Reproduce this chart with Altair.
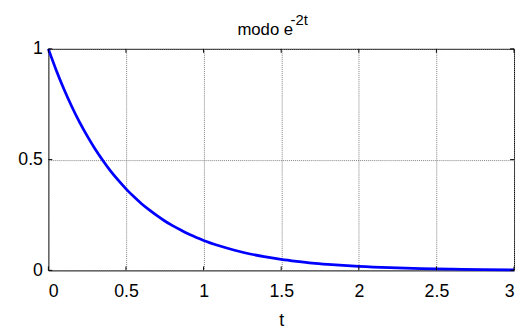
import altair as alt
import pandas as pd

# values
t_vals = [0.0, 0.05, 0.1, 0.15, 0.2, 0.25, 0.3, 0.35, 0.4, 0.45, 0.5, 0.55, 0.6, 0.65, 0.7,
          0.75, 0.8, 0.85, 0.9, 0.95, 1.0, 1.1, 1.2, 1.3, 1.4, 1.5, 1.6, 1.7, 1.8, 1.9, 2.0,
          2.2, 2.4, 2.6, 2.8, 3.0]
y_vals = [1.0, 0.905, 0.819, 0.741, 0.670, 0.607, 0.549, 0.497, 0.449, 0.407, 0.368, 0.333,
          0.301, 0.273, 0.247, 0.223, 0.202, 0.183, 0.165, 0.150, 0.135, 0.111, 0.091, 0.074,
          0.061, 0.050, 0.041, 0.033, 0.027, 0.022, 0.018, 0.012, 0.008, 0.0055, 0.0037, 0.0025]
x_ticks = [0, 0.5, 1, 1.5, 2, 2.5, 3]
y_ticks = [0, 0.5, 1]

W, H = 473, 225
FONT = "Liberation Sans"

df = pd.DataFrame({"t": t_vals, "y": y_vals})
xt = pd.DataFrame({"t": x_ticks})
yt = pd.DataFrame({"y": y_ticks})

xscale = alt.Scale(domain=[0, 3], nice=False, zero=False)
yscale = alt.Scale(domain=[0, 1], nice=False, zero=False)

line = alt.Chart(df).mark_line(color="#0000ff", strokeWidth=2.8, interpolate="monotone").encode(
    x=alt.X("t:Q", scale=xscale, title="t",
            axis=alt.Axis(values=x_ticks, format="~g", grid=True, ticks=False, domain=False,
                          labelPadding=13, titlePadding=11)),
    y=alt.Y("y:Q", scale=yscale, title=None,
            axis=alt.Axis(values=y_ticks, format="~g", grid=True, ticks=False, domain=False,
                          labelPadding=6)),
)

tick_b = alt.Chart(xt).mark_rule(color="black", strokeWidth=1).encode(
    x=alt.X("t:Q", scale=xscale), y=alt.value(H), y2=alt.value(H - 4))
tick_t = alt.Chart(xt).mark_rule(color="black", strokeWidth=1).encode(
    x=alt.X("t:Q", scale=xscale), y=alt.value(0), y2=alt.value(4))
tick_l = alt.Chart(yt).mark_rule(color="black", strokeWidth=1).encode(
    y=alt.Y("y:Q", scale=yscale), x=alt.value(0), x2=alt.value(4))
tick_r = alt.Chart(yt).mark_rule(color="black", strokeWidth=1).encode(
    y=alt.Y("y:Q", scale=yscale), x=alt.value(W), x2=alt.value(W - 4))

title_main = alt.Chart(pd.DataFrame({"s": ["modo e"]})).mark_text(
    font=FONT, fontSize=17, align="left", baseline="alphabetic", color="black"
).encode(text="s:N", x=alt.value(192), y=alt.value(-14))
title_sup = alt.Chart(pd.DataFrame({"s": ["-2t"]})).mark_text(
    font=FONT, fontSize=15, align="left", baseline="alphabetic", color="black"
).encode(text="s:N", x=alt.value(246), y=alt.value(-24))

chart = alt.layer(line, tick_b, tick_t, tick_l, tick_r, title_main, title_sup).properties(
    width=W, height=H,
    background="white",
    autosize=alt.AutoSizeParams(type="none"),
    padding={"left": 41, "top": 39, "right": 2, "bottom": 54},
).configure_view(
    stroke="black", strokeWidth=1
).configure_axis(
    labelFont=FONT, labelFontSize=18, labelColor="black",
    titleFont=FONT, titleFontSize=18, titleColor="black", titleFontWeight="normal",
    gridColor="#808080", gridDash=[1, 1], gridWidth=1, gridOpacity=1,
)

chart.save("out.html", embed_options={"renderer": "svg", "actions": False})
